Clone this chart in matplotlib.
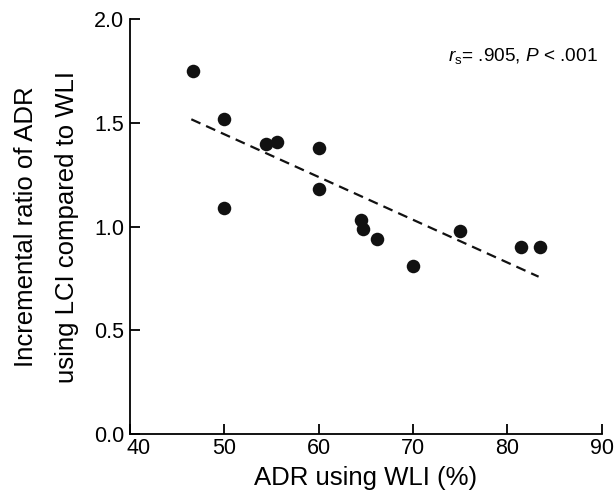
import numpy as np
import matplotlib
matplotlib.use("Agg")
import matplotlib.pyplot as plt
import matplotlib.transforms as mtransforms

plt.rcParams['font.family'] = ['Liberation Sans', 'DejaVu Sans']
plt.rcParams['mathtext.fontset'] = 'custom'
plt.rcParams['mathtext.rm'] = 'Liberation Sans'
plt.rcParams['mathtext.it'] = 'Liberation Sans:italic'

adr_wli = [46.7, 50.0, 50.0, 54.4, 55.6, 60.0, 60.0, 64.5, 64.7, 66.2, 70.0, 75.0, 81.4, 83.4]
ratio = [1.75, 1.52, 1.09, 1.40, 1.41, 1.38, 1.18, 1.03, 0.99, 0.94, 0.81, 0.98, 0.90, 0.90]
fit_x = [46.5, 83.3]
fit_y = [1.517, 0.759]

x_ticks = [40, 50, 60, 70, 80, 90]
y_ticks = [0.0, 0.5, 1.0, 1.5, 2.0]

fig = plt.figure(figsize=(6.16, 4.96), dpi=100)
ax = fig.add_axes([0.211, 0.1244, 0.766, 0.8373])

ax.plot(fit_x, fit_y, color='#111111', lw=1.6, linestyle=(0, (4.5, 2.8)))
ax.scatter(adr_wli, ratio, s=95, color='#111111', zorder=3, linewidths=0)

ax.set_xlim(40, 90)
ax.set_ylim(0, 2.0)
ax.set_xticks(x_ticks)
ax.set_yticks(y_ticks)
ax.set_yticklabels([f"{v:.1f}" for v in y_ticks])
for s in ['top', 'right']:
    ax.spines[s].set_visible(False)
for s in ['left', 'bottom']:
    ax.spines[s].set_linewidth(1.3)
ax.tick_params(direction='in', length=7, width=1.3, labelsize=15.5, pad=4)
ax.tick_params(axis='x', pad=3)

# nudge the first x tick label right, as in the reference
first = ax.get_xticklabels()[0]
first.set_transform(first.get_transform() + mtransforms.ScaledTranslation(9 / 100, 0, fig.dpi_scale_trans))

ax.set_xlabel('ADR using WLI (%)', fontsize=18.5, labelpad=5)
ax.set_ylabel('Incremental ratio of ADR\nusing LCI compared to WLI', fontsize=18.5, labelpad=11, linespacing=1.9)

ax.text(0.675, 0.9, r'$\it{r}_{\rm s}$= .905, $\it{P}$ < .001', transform=ax.transAxes,
        fontsize=13.7, ha='left', va='baseline')

fig.savefig('out.png', dpi=100)
